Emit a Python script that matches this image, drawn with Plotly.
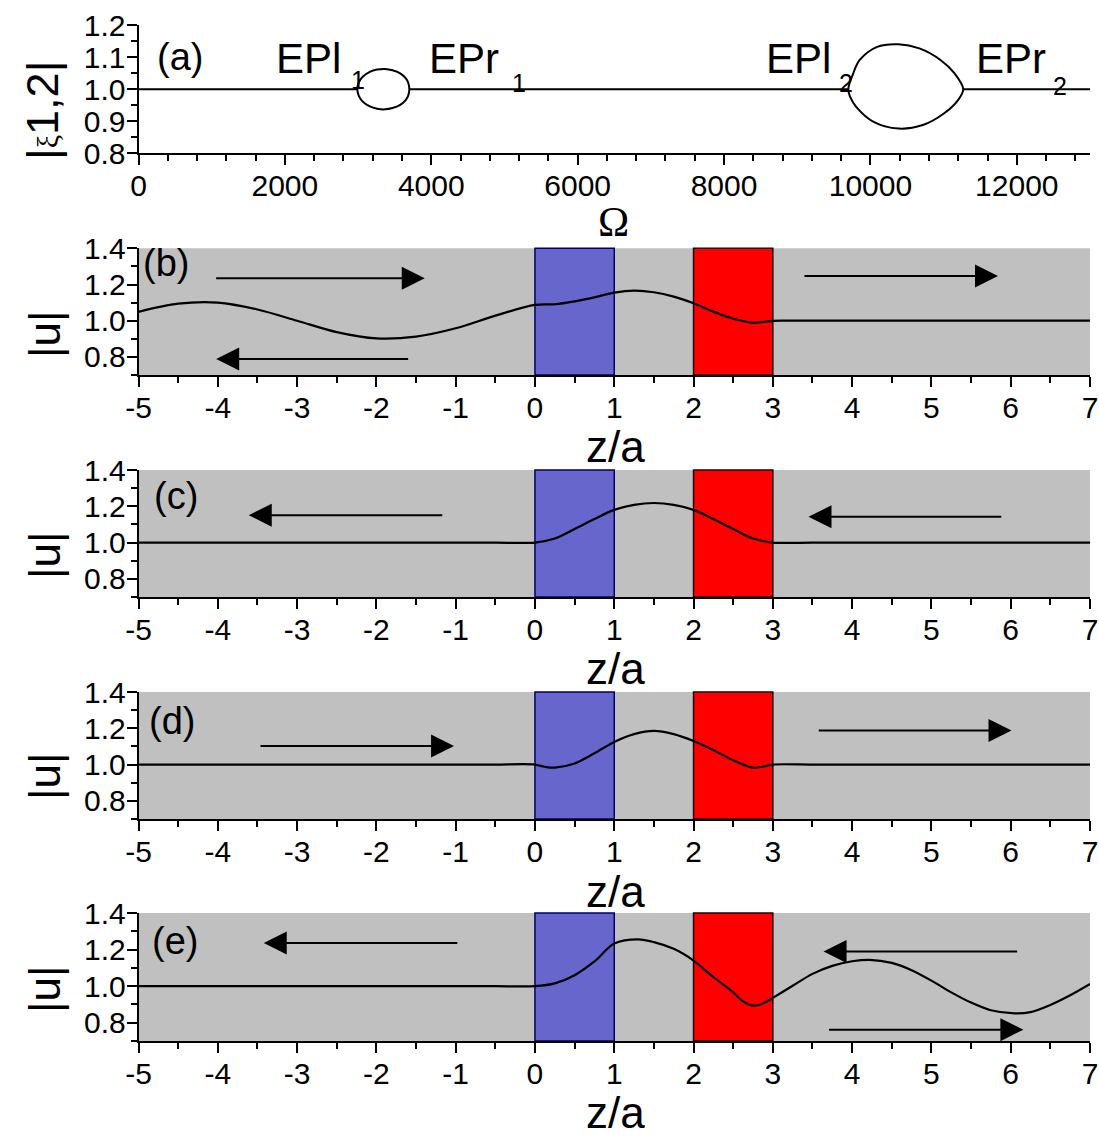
import plotly.graph_objects as go

# ---------------- data ----------------
# panel (a): |xi_1,2| vs Omega
omega_flat = [0, 2990, None, 3700, 9698, None, 11268, 13000]
xi_flat = [1.0, 1.0, None, 1.0, 1.0, None, 1.0, 1.0]

omega_loop1_upper = [2990, 3010, 3060, 3160, 3260, 3370, 3470, 3570, 3650, 3685, 3700]
xi_loop1_upper = [1.0, 1.021, 1.038, 1.054, 1.061, 1.063, 1.059, 1.050, 1.034, 1.020, 1.0]
omega_loop1_lower = [2990, 3010, 3060, 3160, 3260, 3370, 3470, 3570, 3650, 3685, 3700]
xi_loop1_lower = [1.0, 0.979, 0.962, 0.946, 0.939, 0.937, 0.941, 0.950, 0.966, 0.980, 1.0]

omega_loop2_upper = [9698, 9757, 9854, 10092, 10381, 10669, 10957, 11150, 11268]
xi_loop2_upper = [1.0, 1.044, 1.091, 1.132, 1.140, 1.127, 1.091, 1.049, 1.0]
omega_loop2_lower = [9698, 9733, 9805, 10044, 10381, 10716, 11003, 11197, 11268]
xi_loop2_lower = [1.0, 0.971, 0.945, 0.898, 0.877, 0.888, 0.924, 0.966, 1.0]

ep_labels = ["EPl", "EPr", "EPl", "EPr"]
ep_subs = ["1", "1", "2", "2"]

# panels (b)-(e): |u| vs z/a
z_b = [-5, -4.5, -4, -3.5, -3, -2.5, -2, -1.5, -1, -0.5, 0, 0.25, 0.5, 0.75, 1, 1.25, 1.5, 1.75,
       2, 2.25, 2.5, 2.75, 3, 3.15, 3.5, 4, 5, 6, 7]
u_b = [1.049, 1.094, 1.100, 1.062, 1.000, 0.937, 0.902, 0.912, 0.958, 1.028, 1.087, 1.091, 1.107,
       1.129, 1.155, 1.166, 1.157, 1.133, 1.096, 1.050, 1.011, 0.989, 0.999, 1.0, 1.0, 1.0, 1.0,
       1.0, 1.0]

z_c = [-5, -4, -3, -2, -1, -0.5, 0, 0.25, 0.5, 0.75, 1, 1.25, 1.5, 1.75, 2, 2.25, 2.5, 2.75, 3,
       3.5, 4, 5, 6, 7]
u_c = [1.0, 1.0, 1.0, 1.0, 1.0, 1.0, 1.0, 1.022, 1.075, 1.130, 1.180, 1.208, 1.218, 1.208, 1.180,
       1.130, 1.075, 1.022, 1.0, 1.0, 1.0, 1.0, 1.0, 1.0]

z_d = [-5, -4, -3, -2, -1, -0.5, 0, 0.12, 0.25, 0.5, 0.75, 1, 1.25, 1.5, 1.75, 2, 2.25, 2.5, 2.75,
       2.9, 3, 3.5, 4, 5, 6, 7]
u_d = [1.0, 1.0, 1.0, 1.0, 1.0, 1.0, 1.0, 0.988, 0.983, 1.006, 1.062, 1.125, 1.168, 1.186, 1.168,
       1.130, 1.080, 1.024, 0.983, 0.991, 1.0, 1.0, 1.0, 1.0, 1.0, 1.0]

z_e = [-5, -4, -3, -2, -1, -0.5, 0, 0.25, 0.5, 0.75, 1, 1.3, 1.5, 1.75, 2, 2.25, 2.5, 2.62, 2.73,
       2.82, 2.91, 3, 3.25, 3.5, 3.75, 4, 4.22, 4.5, 4.75, 5, 5.25, 5.5, 5.75, 6.05, 6.25, 6.5,
       6.75, 7]
u_e = [1.0, 1.0, 1.0, 1.0, 1.0, 1.0, 1.0, 1.015, 1.060, 1.135, 1.233, 1.256, 1.241, 1.204, 1.140,
       1.050, 0.966, 0.918, 0.895, 0.897, 0.913, 0.936, 1.002, 1.067, 1.111, 1.136, 1.144, 1.127,
       1.087, 1.030, 0.966, 0.910, 0.868, 0.851, 0.858, 0.897, 0.950, 1.012]

# arrows: (tail z, head z, |u| level)
arrows_b = [(-4.04, -1.39, 1.234), (-1.58, -4.02, 0.788), (3.38, 5.84, 1.247)]
arrows_c = [(-1.15, -3.61, 1.151), (5.90, 3.45, 1.142)]
arrows_d = [(-3.48, -1.02, 1.102), (3.56, 6.01, 1.188)]
arrows_e = [(-0.96, -3.42, 1.236), (6.10, 3.64, 1.190), (3.69, 6.16, 0.762)]

blue_layer = [0, 1]
red_layer = [2, 3]

z_ticks = [-5, -4, -3, -2, -1, 0, 1, 2, 3, 4, 5, 6, 7]
z_tick_labels = ["-5", "-4", "-3", "-2", "-1", "0", "1", "2", "3", "4", "5", "6", "7"]
z_minor_ticks = [-4.5, -3.5, -2.5, -1.5, -0.5, 0.5, 1.5, 2.5, 3.5, 4.5, 5.5, 6.5]
omega_ticks = [0, 2000, 4000, 6000, 8000, 10000, 12000]
omega_tick_labels = ["0", "2000", "4000", "6000", "8000", "10000", "12000"]
omega_minor_ticks = [400, 800, 1200, 1600, 2400, 2800, 3200, 3600, 4400, 4800, 5200, 5600,
                     6400, 6800, 7200, 7600, 8400, 8800, 9200, 9600, 10400, 10800, 11200,
                     11600, 12400, 12800]
panel_tags = ["(a)", "(b)", "(c)", "(d)", "(e)"]

# ---------------- layout helpers ----------------
W, H = 1099, 1142


def px(p):
    return p / W


def py(p):
    return 1 - p / H


XDOM = [px(138.5), px(1090)]
ydoms = [
    [py(153.3), py(25)],
    [py(375), py(248.3)],
    [py(597), py(470)],
    [py(819), py(692)],
    [py(1041), py(913)],
]

FONT = "Liberation Sans, Arial"
TICKFONT = dict(family=FONT, size=30, color="black")

fig = go.Figure()

# panel (a)
fig.add_trace(go.Scatter(x=omega_flat, y=xi_flat, mode="lines",
                         line=dict(color="black", width=2),
                         xaxis="x", yaxis="y", connectgaps=False, hoverinfo="skip"))
for up_x, up_y, lo_x, lo_y in [
    (omega_loop1_upper, xi_loop1_upper, omega_loop1_lower, xi_loop1_lower),
    (omega_loop2_upper, xi_loop2_upper, omega_loop2_lower, xi_loop2_lower),
]:
    lx = up_x + lo_x[::-1][1:]
    ly = up_y + lo_y[::-1][1:]
    fig.add_trace(go.Scatter(x=lx, y=ly, mode="lines",
                             line=dict(color="black", width=2, shape="spline", smoothing=1.0),
                             xaxis="x", yaxis="y", hoverinfo="skip"))

# panels (b)-(e)
series = [(z_b, u_b), (z_c, u_c), (z_d, u_d), (z_e, u_e)]
for i, (zz, uu) in enumerate(series):
    k = i + 2
    fig.add_trace(go.Scatter(x=zz, y=uu, mode="lines",
                             line=dict(color="black", width=2.2, shape="spline", smoothing=0.9),
                             xaxis=f"x{k}", yaxis=f"y{k}", hoverinfo="skip"))

shapes = []
annotations = []
for i in range(4):
    k = i + 2
    shapes.append(dict(type="rect", xref=f"x{k} domain", yref=f"y{k} domain",
                       x0=0, x1=1, y0=0, y1=1, fillcolor="#c0c0c0",
                       line=dict(width=0), layer="below"))
    shapes.append(dict(type="rect", xref=f"x{k}", yref=f"y{k} domain",
                       x0=blue_layer[0], x1=blue_layer[1], y0=0, y1=1,
                       fillcolor="rgb(102,102,204)", line=dict(color="#000066", width=1.5),
                       layer="below"))
    shapes.append(dict(type="rect", xref=f"x{k}", yref=f"y{k} domain",
                       x0=red_layer[0], x1=red_layer[1], y0=0, y1=1,
                       fillcolor="rgb(255,0,0)", line=dict(color="#200000", width=1.5),
                       layer="below"))

for i, arrs in enumerate([arrows_b, arrows_c, arrows_d, arrows_e]):
    k = i + 2
    for tail, head, lev in arrs:
        annotations.append(dict(xref=f"x{k}", yref=f"y{k}", axref=f"x{k}", ayref=f"y{k}",
                                x=head, y=lev, ax=tail, ay=lev, text="", showarrow=True,
                                arrowhead=2, arrowsize=2.3, arrowwidth=2, arrowcolor="black"))

# panel tags
tag_pos = [(230, 1.1, "x", "y"), (-4.97, 1.317, "x2", "y2"), (-4.83, 1.256, "x3", "y3"),
           (-4.89, 1.24, "x4", "y4"), (-4.86, 1.245, "x5", "y5")]
for tag, (tx, ty, xr, yr) in zip(panel_tags, tag_pos):
    annotations.append(dict(xref=xr, yref=yr, x=tx, y=ty, text=tag, showarrow=False,
                            xanchor="left", yanchor="middle",
                            font=dict(family=FONT, size=38, color="black")))

# EP labels
ep_main_x = [1850, 3940, 8540, 11420]
ep_sub_x = [2880, 5080, 9540, 12466]
ep_sub_y = [1.03, 1.019, 1.02, 1.011]
for lab, sub, mx, sx, sy in zip(ep_labels, ep_subs, ep_main_x, ep_sub_x, ep_sub_y):
    annotations.append(dict(xref="x", yref="y", x=mx, y=1.095, text=lab, showarrow=False,
                            xanchor="left", yanchor="middle",
                            font=dict(family=FONT, size=42, color="black")))
    annotations.append(dict(xref="x", yref="y", x=sx, y=sy, text=sub, showarrow=False,
                            xanchor="left", yanchor="middle",
                            font=dict(family=FONT, size=25, color="black")))

# axis titles
annotations.append(dict(xref="paper", yref="paper", x=px(613), y=py(222), text="Ω",
                        showarrow=False, xanchor="center", yanchor="middle",
                        font=dict(family="Liberation Serif, Times New Roman", size=42,
                                  color="black")))
annotations.append(dict(xref="paper", yref="paper", x=px(42), y=py(111),
                        text="|<span style='font-family:Liberation Serif;font-size:30px'>ξ</span>1,2|",
                        textangle=-90, showarrow=False, xanchor="center", yanchor="middle",
                        font=dict(family=FONT, size=45, color="black")))
for yc in [446, 668, 891, 1112]:
    annotations.append(dict(xref="paper", yref="paper", x=px(615), y=py(yc), text="z/a",
                            showarrow=False, xanchor="center", yanchor="middle",
                            font=dict(family=FONT, size=44, color="black")))
for yc in [335, 556, 777, 990]:
    annotations.append(dict(xref="paper", yref="paper", x=px(44), y=py(yc), text="|u|",
                            textangle=-90, showarrow=False, xanchor="center", yanchor="middle",
                            font=dict(family=FONT, size=44, color="black")))

layout = dict(
    width=W, height=H, margin=dict(l=0, r=0, t=0, b=0),
    template="none", showlegend=False,
    paper_bgcolor="white", plot_bgcolor="white",
    shapes=shapes, annotations=annotations,
)

common_axis = dict(showgrid=False, zeroline=False, showline=True, linecolor="black",
                   ticks="outside", tickcolor="black", tickfont=TICKFONT,
                   ticklabelstandoff=-5)

layout["xaxis"] = dict(common_axis, domain=XDOM, anchor="y", range=[0, 13000],
                       tickmode="array", tickvals=omega_ticks, ticktext=omega_tick_labels,
                       ticklen=10, tickwidth=2, linewidth=2,
                       minor=dict(tickmode="array", tickvals=omega_minor_ticks,
                                  ticks="outside", ticklen=6, tickwidth=2, tickcolor="black"))
layout["yaxis"] = dict(common_axis, domain=ydoms[0], anchor="x", range=[0.8, 1.2],
                       tick0=0.8, dtick=0.1, tickformat=".1f",
                       ticklen=10, tickwidth=2, linewidth=2,
                       minor=dict(tick0=0.8, dtick=0.05, ticks="outside", ticklen=6,
                                  tickwidth=2, tickcolor="black"))
for i in range(4):
    k = i + 2
    layout[f"xaxis{k}"] = dict(common_axis, domain=XDOM, anchor=f"y{k}", range=[-5, 7],
                               tickmode="array", tickvals=z_ticks, ticktext=z_tick_labels,
                               ticklen=10, tickwidth=2, linewidth=1.5,
                               minor=dict(tickmode="array", tickvals=z_minor_ticks,
                                          ticks="outside", ticklen=6, tickwidth=2,
                                          tickcolor="black"))
    layout[f"yaxis{k}"] = dict(common_axis, domain=ydoms[k - 1], anchor=f"x{k}", range=[0.7, 1.4],
                               tick0=0.8, dtick=0.2, tickformat=".1f",
                               ticklen=10, tickwidth=2, linewidth=1.5,
                               minor=dict(tick0=0.7, dtick=0.1, ticks="outside", ticklen=6,
                                          tickwidth=2, tickcolor="black"))

fig.update_layout(**layout)
fig.write_html(
    "out.html",
    config={"displayModeBar": False},
    post_script="document.body.style.margin='0px';document.body.style.overflow='hidden';",
)
